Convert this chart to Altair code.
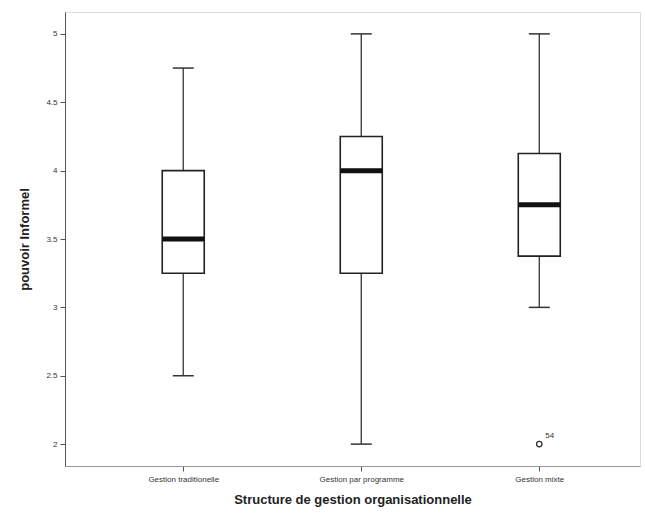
import altair as alt
import pandas as pd

categories = ["Gestion traditionelle", "Gestion par programme", "Gestion mixte"]
lower = [2.5, 2.0, 3.0]
q1 = [3.25, 3.25, 3.375]
median = [3.5, 4.0, 3.75]
q3 = [4.0, 4.25, 4.125]
upper = [4.75, 5.0, 5.0]

outlier_cat = ["Gestion mixte"]
outlier_val = [2.0]
outlier_lab = ["54"]

df = pd.DataFrame({"cat": categories, "lower": lower, "q1": q1,
                   "median": median, "q3": q3, "upper": upper})
dfo = pd.DataFrame({"cat": outlier_cat, "val": outlier_val, "lab": outlier_lab})

xscale = alt.Scale(domain=categories, type="point", padding=0.615, align=0.54)
yscale = alt.Scale(domain=[1.84, 5.16], nice=False, zero=False)

xenc = alt.X("cat:N", scale=xscale, sort=categories,
             axis=alt.Axis(title="Structure de gestion organisationnelle", labelAngle=0,
                           labelFontSize=8, labelColor="#333", labelFont="Liberation Sans",
                           titleFont="Liberation Sans", titleFontSize=13, titleFontWeight="bold",
                           titleColor="#222", titlePadding=10, tickSize=5, tickColor="#555",
                           domainColor="#999", labelPadding=4))
yaxis = alt.Axis(title="pouvoir Informel", values=[2, 2.5, 3, 3.5, 4, 4.5, 5], format="~g",
                 labelFontSize=8, labelColor="#333", labelFont="Liberation Sans",
                 titleFont="Liberation Sans", titleFontSize=13, titleFontWeight="bold",
                 titleColor="#222", titlePadding=14, tickSize=5, tickColor="#555",
                 domainColor="#555", grid=False, labelPadding=3)

base = alt.Chart(df)

whisk = base.mark_rule(color="#333", strokeWidth=1.3).encode(
    x=xenc, y=alt.Y("lower:Q", scale=yscale, axis=yaxis), y2="upper:Q")
box = base.mark_bar(size=42, fill="white", stroke="#222", strokeWidth=1.6).encode(
    x=xenc, y=alt.Y("q1:Q", scale=yscale), y2="q3:Q")
med = base.mark_tick(size=42, thickness=5, color="#111", opacity=1).encode(
    x=xenc, y=alt.Y("median:Q", scale=yscale))
capl = base.mark_tick(size=21, thickness=1.5, color="#333", opacity=1).encode(
    x=xenc, y=alt.Y("lower:Q", scale=yscale))
capu = base.mark_tick(size=21, thickness=1.5, color="#333", opacity=1).encode(
    x=xenc, y=alt.Y("upper:Q", scale=yscale))

pt = alt.Chart(dfo).mark_point(shape="circle", size=30, filled=False, color="#333",
                               strokeWidth=1.3, opacity=1).encode(
    x=xenc, y=alt.Y("val:Q", scale=yscale))
lab = alt.Chart(dfo).mark_text(dx=6, dy=-8, fontSize=8, color="#333", align="left",
                               font="Liberation Sans").encode(
    x=xenc, y=alt.Y("val:Q", scale=yscale), text="lab:N")

chart = alt.layer(whisk, box, med, capl, capu, pt, lab).properties(
    width=575, height=454,
    autosize=alt.AutoSizeParams(type="none"),
    padding={"left": 65, "top": 12, "right": 5, "bottom": 53},
).configure_view(stroke="#999", strokeWidth=1.2).configure(background="white")

chart.save("out.html", embed_options={"renderer": "svg", "actions": False})
